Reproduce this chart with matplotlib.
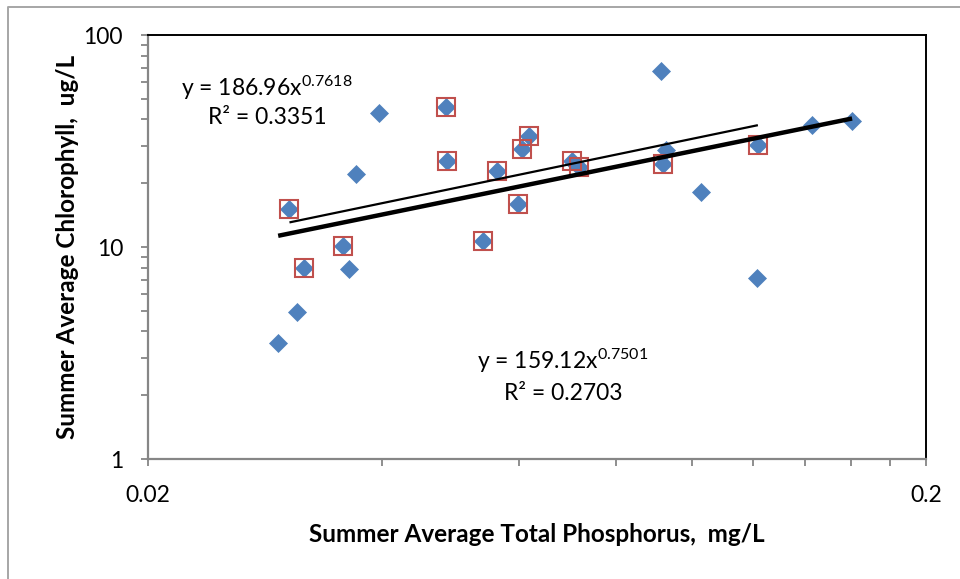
import numpy as np
import matplotlib
matplotlib.use("Agg")
import matplotlib.pyplot as plt
from matplotlib.lines import Line2D
from matplotlib.ticker import FixedLocator, NullFormatter, LogLocator

# summer averages per lake: total phosphorus (mg/L) and chlorophyll (ug/L)
tp = [0.0294, 0.0304, 0.0311, 0.0317, 0.0356, 0.0363, 0.0370, 0.0396,
      0.0483, 0.0485, 0.0539, 0.0562, 0.0598, 0.0605, 0.0618, 0.0702,
      0.0716, 0.0913, 0.0927, 0.0918, 0.1027, 0.1216, 0.1214, 0.1427, 0.1607]
chl = [3.53, 15.1, 4.94, 7.96, 10.1, 7.87, 22.1, 42.9,
       45.8, 25.4, 10.7, 22.8, 15.9, 29.0, 33.4, 25.4,
       23.8, 67.6, 28.7, 24.6, 18.2, 30.3, 7.14, 37.6, 39.3]

# lakes in the highlighted subset
subset = [1, 3, 4, 8, 9, 10, 11, 12, 13, 14, 15, 16, 19, 21]

# power-law trendlines, y = a * x^b
fit_all = (159.12, 0.7501, 0.2703)
fit_subset = (186.96, 0.7618, 0.3351)

x_ticks = [0.02, 0.2]
x_minor = [0.04, 0.06, 0.08, 0.1, 0.12, 0.14, 0.16, 0.18]
y_ticks = [1, 10, 100]

plt.rcParams["font.family"] = ["Lato", "DejaVu Sans"]
plt.rcParams["mathtext.fontset"] = "custom"
plt.rcParams["mathtext.rm"] = "Lato"
plt.rcParams["mathtext.default"] = "rm"

BLUE = "#4F81BD"
RED = "#C0504D"
GRAY = "#868686"

W, H = 960, 579
dpi = 100
fig = plt.figure(figsize=(W / dpi, H / dpi), dpi=dpi)


def fx(px):
    return px / W


def fy(py):
    return 1 - py / H


ax = fig.add_axes([fx(148), fy(459), fx(926) - fx(148), fy(35) - fy(459)])

tp_arr = np.array(tp)
chl_arr = np.array(chl)
sub = np.array(subset)

ax.plot(tp_arr, chl_arr, linestyle="none", marker="D", ms=9.6,
        mfc=BLUE, mec=BLUE, mew=0.5, zorder=3)
ax.plot(tp_arr[sub], chl_arr[sub], linestyle="none", marker="s", ms=13,
        mfc="none", mec=RED, mew=1.5, zorder=4)

for (a, b, _), xs, lw in [(fit_all, tp_arr, 3.2), (fit_subset, tp_arr[sub], 1.6)]:
    xl = np.geomspace(xs.min(), xs.max(), 100)
    ax.plot(xl, a * xl ** b, color="black", lw=lw, zorder=5,
            solid_capstyle="butt")

ax.set_xscale("log")
ax.set_yscale("log")
ax.set_xlim(0.02, 0.2)
ax.set_ylim(1, 100)

ax.xaxis.set_major_locator(FixedLocator(x_ticks))
ax.xaxis.set_minor_locator(FixedLocator(x_minor))
ax.set_xticks(x_ticks, [f"{v:g}" for v in x_ticks])
ax.xaxis.set_minor_formatter(NullFormatter())
ax.yaxis.set_major_locator(FixedLocator(y_ticks))
ax.set_yticks(y_ticks, [f"{v:g}" for v in y_ticks])
ax.yaxis.set_minor_locator(LogLocator(base=10, subs=np.arange(2, 10)))
ax.yaxis.set_minor_formatter(NullFormatter())

ax.tick_params(axis="both", which="both", direction="out", color=GRAY,
               width=1.3, length=5, labelsize=16.5, labelcolor="black")
ax.tick_params(axis="y", which="both", pad=13)
ax.tick_params(axis="x", which="both", pad=14)

for side in ["left", "bottom"]:
    ax.spines[side].set_color(GRAY)
    ax.spines[side].set_linewidth(1.6)
for side in ["top", "right"]:
    ax.spines[side].set_color("black")
    ax.spines[side].set_linewidth(1.4)

ax.set_xlabel("Summer Average Total Phosphorus,  mg/L", fontsize=17.5,
              fontweight="bold")
ax.set_ylabel("Summer Average Chlorophyll,  ug/L", fontsize=17.5,
              fontweight="bold")
ax.xaxis.label.set_va("center")
ax.yaxis.label.set_va("center")
ax.xaxis.set_label_coords(0.5, (459 - 535) / 424)
ax.yaxis.set_label_coords((68 - 148) / 778, 0.5)

# trendline equations
eq_size = 16.5
for (a, b, r2), cx, y1, y2 in [(fit_subset, 267, 88, 117),
                               (fit_all, 563, 361, 393)]:
    fig.text(fx(cx), fy(y1), f"y = {a:.2f}x$^{{{b:.4f}}}$", ha="center",
             va="center", fontsize=eq_size)
    fig.text(fx(cx), fy(y2), f"R\u00b2 = {r2:.4f}", ha="center",
             va="center", fontsize=eq_size)

# chart area border
fig.add_artist(Line2D([fx(8), fx(8), 1.01], [-0.01, fy(7), fy(7)],
                      color="#A6A6A6", lw=1.4, transform=fig.transFigure))

fig.savefig("out.png", dpi=dpi)
